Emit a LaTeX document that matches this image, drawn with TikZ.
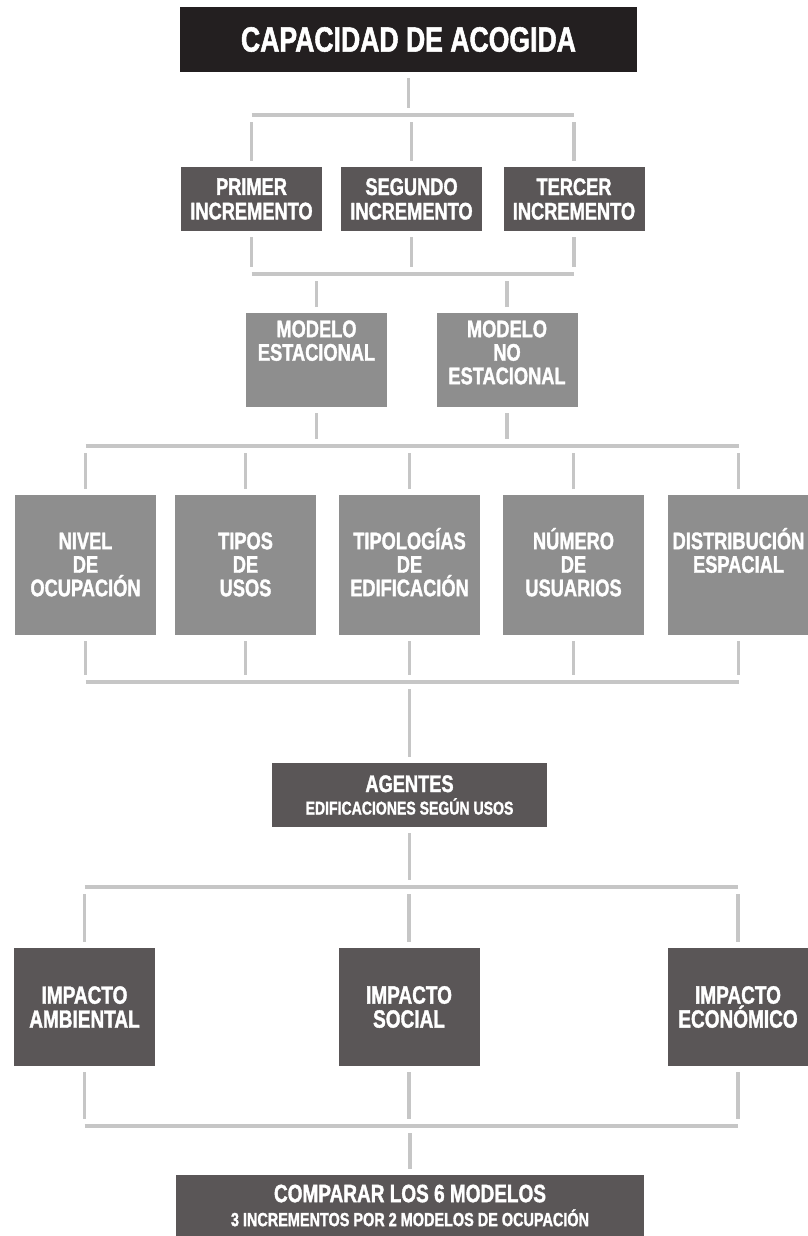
\documentclass[tikz,border=0pt]{standalone}
\usepackage{fontspec}
\setmainfont{Liberation Sans}[FakeStretch=0.76, BoldFeatures={FakeBold=1.5}]
\usepackage{tikz}
\usetikzlibrary{positioning, calc}
\definecolor{boxblack}{HTML}{231F20}
\definecolor{boxdark}{HTML}{5A5657}
\definecolor{boxmid}{HTML}{8E8E8E}
\definecolor{linkgray}{HTML}{C6C6C6}
% lines hanging from the first baseline
\newcommand{\toplines}[1]{\vtop{\let\\\cr\halign{\hfil##\hfil\cr#1\crcr}}}

\begin{document}
\begin{tikzpicture}[x=1pt, y=-1pt,
    box/.style={fill=boxdark, text=white, align=center, inner sep=0pt,
        minimum width=141pt, font=\bfseries\fontsize{24}{24.5}\selectfont},
    midbox/.style={box, fill=boxmid, anchor=north, font=\bfseries\fontsize{24}{23.5}\selectfont},
    link/.style={draw=linkgray, line width=3.5pt, shorten <=6pt, shorten >=7pt},
    bar/.style={draw=linkgray, line width=3.5pt}]
    \useasboundingbox (0,0) rectangle (807,1236);

    % Title
    \node[box, fill=boxblack, minimum width=457pt, minimum height=65pt,
        font=\bfseries\fontsize{35}{35}\selectfont] (cap) at (408.5,39.5) {CAPACIDAD DE ACOGIDA};

    % Increments
    \node[box, minimum height=64pt] (inc1) at (251.5,199) {PRIMER\\INCREMENTO};
    \node[box, minimum height=64pt] (inc2) at (411.5,199) {SEGUNDO\\INCREMENTO};
    \node[box, minimum height=64pt] (inc3) at (574,199) {TERCER\\INCREMENTO};

    % Occupation models
    \node[midbox, text height=24pt, text depth=70pt] (mod1) at (316.5,313) {\toplines{MODELO\\ESTACIONAL}};
    \node[midbox, text height=24pt, text depth=70pt] (mod2) at (507,313) {\toplines{MODELO\\NO\\ESTACIONAL}};

    % Parameters
    \node[midbox, text height=54pt, text depth=86pt] (att1) at (85.5,495) {\toplines{NIVEL\\DE\\OCUPACIÓN}};
    \node[midbox, text height=54pt, text depth=86pt] (att2) at (245.5,495) {\toplines{TIPOS\\DE\\USOS}};
    \node[midbox, text height=54pt, text depth=86pt] (att3) at (409.5,495) {\toplines{TIPOLOGÍAS\\DE\\EDIFICACIÓN}};
    \node[midbox, text height=54pt, text depth=86pt] (att4) at (573.5,495) {\toplines{NÚMERO\\DE\\USUARIOS}};
    \node[midbox, text height=54pt, text depth=86pt] (att5) at (738.5,495) {\toplines{DISTRIBUCIÓN\\ESPACIAL}};

    % Agents
    \node[box, minimum width=275pt, minimum height=64pt] (agt) at (409.5,795)
        {AGENTES\\[-2pt]{\fontsize{18.5}{20}\selectfont EDIFICACIONES SEGÚN USOS}};

    % Impacts
    \node[box, minimum height=118pt, font=\bfseries\fontsize{25}{24}\selectfont] (imp1) at (84.5,1007) {IMPACTO\\AMBIENTAL};
    \node[box, minimum height=118pt, font=\bfseries\fontsize{25}{24}\selectfont] (imp2) at (409,1007) {IMPACTO\\SOCIAL};
    \node[box, minimum height=118pt, font=\bfseries\fontsize{25}{24}\selectfont] (imp3) at (738,1007) {IMPACTO\\ECONÓMICO};

    % Comparison
    \node[box, minimum width=468pt, minimum height=61pt, font=\bfseries\fontsize{25}{24}\selectfont] (cmp) at (410,1205.5)
        {COMPARAR LOS 6 MODELOS\\{\fontsize{19}{20}\selectfont 3 INCREMENTOS POR 2 MODELOS DE OCUPACIÓN}};

    % Bars
    \coordinate (b1) at (0,115);
    \coordinate (b2) at (0,274);
    \coordinate (b3) at (0,446);
    \coordinate (b4) at (0,682);
    \coordinate (b5) at (0,887);
    \coordinate (b6) at (0,1126);
    \draw[bar] (inc1 |- b1) -- (inc3 |- b1);
    \draw[bar] (inc1 |- b2) -- (inc3 |- b2);
    \draw[bar] (att1 |- b3) -- (att5 |- b3);
    \draw[bar] (att1 |- b4) -- (att5 |- b4);
    \draw[bar] (imp1 |- b5) -- (imp3 |- b5);
    \draw[bar] (imp1 |- b6) -- (imp3 |- b6);

    % Stubs
    \draw[link] (cap) -- (cap |- b1);
    \draw[link] (inc1) -- (inc1 |- b1);
    \draw[link] (inc2) -- (inc2 |- b1);
    \draw[link] (inc3) -- (inc3 |- b1);
    \draw[link] (inc1) -- (inc1 |- b2);
    \draw[link] (inc2) -- (inc2 |- b2);
    \draw[link] (inc3) -- (inc3 |- b2);
    \draw[link] (mod1) -- (mod1 |- b2);
    \draw[link] (mod2) -- (mod2 |- b2);
    \draw[link] (mod1) -- (mod1 |- b3);
    \draw[link] (mod2) -- (mod2 |- b3);
    \draw[link] (att1) -- (att1 |- b3);
    \draw[link] (att2) -- (att2 |- b3);
    \draw[link] (att3) -- (att3 |- b3);
    \draw[link] (att4) -- (att4 |- b3);
    \draw[link] (att5) -- (att5 |- b3);
    \draw[link] (att1) -- (att1 |- b4);
    \draw[link] (att2) -- (att2 |- b4);
    \draw[link] (att3) -- (att3 |- b4);
    \draw[link] (att4) -- (att4 |- b4);
    \draw[link] (att5) -- (att5 |- b4);
    \draw[link] (agt) -- (agt |- b4);
    \draw[link] (agt) -- (agt |- b5);
    \draw[link] (imp1) -- (imp1 |- b5);
    \draw[link] (imp2) -- (imp2 |- b5);
    \draw[link] (imp3) -- (imp3 |- b5);
    \draw[link] (imp1) -- (imp1 |- b6);
    \draw[link] (imp2) -- (imp2 |- b6);
    \draw[link] (imp3) -- (imp3 |- b6);
    \draw[link] (cmp) -- (cmp |- b6);
\end{tikzpicture}
\end{document}
